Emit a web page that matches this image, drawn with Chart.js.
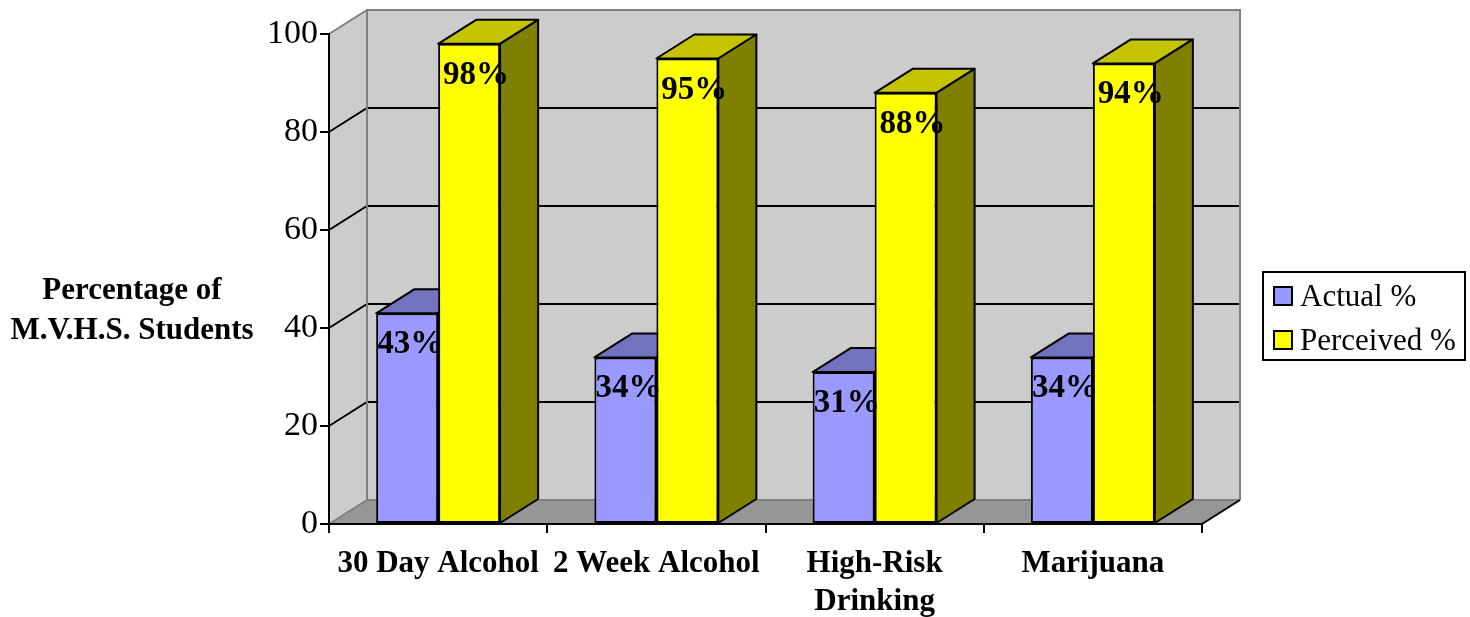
<!DOCTYPE html>
<html>
<head>
<meta charset="utf-8">
<script src="https://cdn.jsdelivr.net/npm/chart.js@4.4.1/dist/chart.umd.min.js"></script>
<style>
  html, body { margin: 0; padding: 0; background: #fff; }
</style>
</head>
<body>
<canvas id="chart" width="1470" height="617"></canvas>
<script>
const categories = ['30 Day Alcohol', '2 Week Alcohol', ['High-Risk', 'Drinking'], 'Marijuana'];
const actual = [43, 34, 31, 34];
const perceived = [98, 95, 88, 94];
const yTicks = [0, 20, 40, 60, 80, 100];
const seriesNames = ['Actual %', 'Perceived %'];
const yTitle = ['Percentage of', 'M.V.H.S. Students'];

// depth of the fake 3d box, in px
const DX = 38, DY = 24;
const front = ['#9999ff', '#ffff00'];
const tops = ['#7272bf', '#c4c400'];
const sides = ['#5c5c99', '#808000'];
const labelShift = [3, 7];
const serif = '"Liberation Serif", "Times New Roman", serif';

function poly(ctx, pts, fill, stroke) {
    ctx.beginPath();
    ctx.moveTo(pts[0][0], pts[0][1]);
    for (let i = 1; i < pts.length; i++) ctx.lineTo(pts[i][0], pts[i][1]);
    ctx.closePath();
    if (fill) { ctx.fillStyle = fill; ctx.fill(); }
    if (stroke) { ctx.strokeStyle = stroke; ctx.stroke(); }
}

function line(ctx, pts, color) {
    ctx.beginPath();
    ctx.moveTo(pts[0][0], pts[0][1]);
    for (let i = 1; i < pts.length; i++) ctx.lineTo(pts[i][0], pts[i][1]);
    ctx.strokeStyle = color;
    ctx.stroke();
}

const box3d = {
    id: 'box3d',
    // walls, floor and back gridlines go under the axes
    beforeDraw(chart) {
        const {ctx, chartArea: a, scales: {y}} = chart;
        const l = a.left, r = a.right;
        const t = y.getPixelForValue(yTicks[yTicks.length - 1]);
        const b = y.getPixelForValue(0);
        ctx.save();
        ctx.lineWidth = 2;
        ctx.fillStyle = '#cccccc';
        ctx.fillRect(l + DX, t - DY, r - l, b - t);
        poly(ctx, [[l, b], [l + DX, b - DY], [l + DX, t - DY], [l, t]], '#cccccc');
        poly(ctx, [[l, b], [l + DX, b - DY], [r + DX, b - DY], [r, b]], '#969696');
        yTicks.slice(1, -1).forEach(v => {
            const py = y.getPixelForValue(v);
            line(ctx, [[l, py], [l + DX, py - DY], [r + DX, py - DY]], '#000');
        });
        line(ctx, [[l, t], [l + DX, t - DY], [r + DX, t - DY], [r + DX, b - DY]], '#808080');
        line(ctx, [[l + DX, t - DY], [l + DX, b - DY], [r + DX, b - DY]], '#808080');
        line(ctx, [[l, b], [l + DX, b - DY]], '#808080');
        line(ctx, [[r, b], [r + DX, b - DY]], '#000');
        ctx.restore();
    },
    // tops and right sides of the bars, the front faces are drawn by chart.js
    beforeDatasetsDraw(chart) {
        const ctx = chart.ctx;
        ctx.save();
        ctx.lineWidth = 2;
        ctx.lineJoin = 'round';
        chart.data.datasets.forEach((ds, i) => {
            chart.getDatasetMeta(i).data.forEach(bar => {
                const x0 = bar.x - bar.width / 2, x1 = bar.x + bar.width / 2;
                const top = bar.y, base = bar.base;
                poly(ctx, [[x0, top], [x1, top], [x1 + DX, top - DY], [x0 + DX, top - DY]], tops[i], '#000');
                poly(ctx, [[x1, top], [x1 + DX, top - DY], [x1 + DX, base - DY], [x1, base]], sides[i], '#000');
            });
        });
        ctx.restore();
    },
    afterDatasetsDraw(chart) {
        const ctx = chart.ctx;
        ctx.save();
        ctx.fillStyle = '#000';
        ctx.font = 'bold 33px ' + serif;
        ctx.textAlign = 'center';
        ctx.textBaseline = 'alphabetic';
        chart.data.datasets.forEach((ds, i) => {
            chart.getDatasetMeta(i).data.forEach((bar, j) => {
                ctx.fillText(ds.data[j] + '%', bar.x + labelShift[i], bar.y + 40);
            });
        });
        ctx.restore();
    },
    afterDraw(chart) {
        const ctx = chart.ctx;
        ctx.save();
        // axis title, kept horizontal
        ctx.fillStyle = '#000';
        ctx.font = 'bold 31px ' + serif;
        ctx.textAlign = 'center';
        ctx.textBaseline = 'alphabetic';
        ctx.fillText(yTitle[0], 132, 299);
        ctx.fillText(yTitle[1], 132, 339);

        // legend
        ctx.lineWidth = 2;
        ctx.strokeStyle = '#000';
        ctx.strokeRect(1263, 272, 202, 88);
        ctx.font = '31px ' + serif;
        ctx.textAlign = 'left';
        chart.data.datasets.forEach((ds, i) => {
            const cy = 296 + i * 44;
            ctx.fillStyle = front[i];
            ctx.fillRect(1274, cy - 9, 18, 18);
            ctx.strokeRect(1274, cy - 9, 18, 18);
            ctx.fillStyle = '#000';
            ctx.fillText(ds.label, 1300, cy + 10);
        });
        ctx.restore();
    }
};

const chart = new Chart(document.getElementById('chart'), {
    type: 'bar',
    data: {
        labels: categories,
        datasets: [
            { label: seriesNames[0], data: actual, backgroundColor: front[0] },
            { label: seriesNames[1], data: perceived, backgroundColor: front[1] }
        ]
    },
    options: {
        responsive: false,
        animation: false,
        events: [],
        layout: { padding: { top: 34, right: 268, left: 0, bottom: 0 } },
        datasets: {
            bar: {
                borderColor: '#000',
                borderWidth: 2,
                borderSkipped: false,
                categoryPercentage: 0.568,
                barPercentage: 1
            }
        },
        plugins: {
            legend: { display: false },
            tooltip: { enabled: false }
        },
        scales: {
            x: {
                grid: { drawOnChartArea: false, color: '#000', lineWidth: 2, tickLength: 9, offset: true },
                border: { display: true, color: '#000', width: 2 },
                ticks: {
                    color: '#000',
                    font: { family: serif, size: 31, weight: 'bold', lineHeight: 1.22 },
                    maxRotation: 0,
                    autoSkip: false,
                    padding: 12
                },
                afterFit: s => { s.height = 93; }
            },
            y: {
                min: yTicks[0],
                max: yTicks[yTicks.length - 1],
                ticks: {
                    stepSize: 20,
                    color: '#000',
                    font: { family: serif, size: 34 },
                    padding: 2
                },
                grid: { drawOnChartArea: false, color: '#000', lineWidth: 2, tickLength: 9 },
                border: { display: true, color: '#000', width: 2 },
                afterFit: s => { s.width = 329; }
            }
        }
    },
    plugins: [box3d]
});
</script>
</body>
</html>
